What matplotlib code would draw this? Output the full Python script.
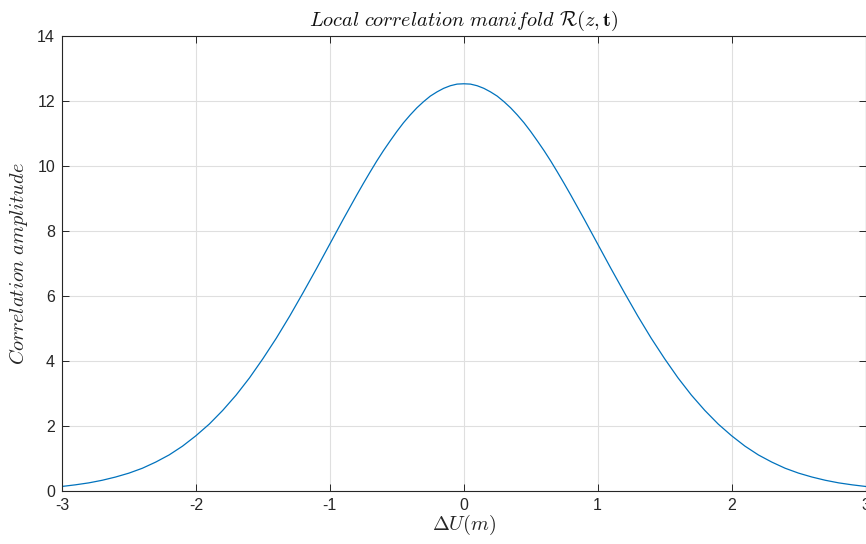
import numpy as np
import matplotlib
matplotlib.use("Agg")
import matplotlib.pyplot as plt

# values (symmetric peak), right half
x_half = [0.0, 0.05, 0.1, 0.15, 0.2, 0.25, 0.3, 0.35, 0.4, 0.45, 0.5,
          0.55, 0.6, 0.65, 0.7, 0.75, 0.8, 0.85, 0.9, 0.95, 1.0,
          1.1, 1.2, 1.3, 1.4, 1.5, 1.6, 1.7, 1.8, 1.9, 2.0,
          2.1, 2.2, 2.3, 2.4, 2.5, 2.6, 2.7, 2.8, 2.9, 3.0]
y_half = [12.53, 12.52, 12.47, 12.39, 12.28, 12.15, 11.98, 11.79, 11.57, 11.33, 11.06,
          10.77, 10.47, 10.15, 9.81, 9.46, 9.10, 8.73, 8.36, 7.98, 7.60,
          6.84, 6.10, 5.38, 4.70, 4.07, 3.48, 2.95, 2.48, 2.06, 1.70,
          1.38, 1.11, 0.89, 0.70, 0.55, 0.43, 0.33, 0.25, 0.19, 0.14]

x_ticks = [-3, -2, -1, 0, 1, 2, 3]
y_ticks = [0, 2, 4, 6, 8, 10, 12, 14]

x = [-v for v in x_half[:0:-1]] + x_half
y = y_half[:0:-1] + y_half

plt.rcParams['font.family'] = ['Liberation Sans', 'DejaVu Sans']
plt.rcParams['mathtext.fontset'] = 'cm'

fig = plt.figure(figsize=(8.66, 5.44), dpi=100)
ax = fig.add_axes([62/866, 1-491/544, 803.5/866, 455/544])

ax.plot(x, y, color='#0072BD', linewidth=0.9, solid_joinstyle='round')

ax.set_xlim(-3, 3)
ax.set_ylim(0, 14)
ax.set_xticks(x_ticks)
ax.set_yticks(y_ticks)
ax.set_xticklabels([str(t) for t in x_ticks])
ax.grid(True, color='#DFDFDF', linewidth=0.8)
ax.set_axisbelow(True)
ax.tick_params(direction='in', length=5, width=0.7, colors='#262626',
               labelsize=11.5, top=True, right=True, pad=5)
for s in ax.spines.values():
    s.set_color('#262626')
    s.set_linewidth(0.8)

ax.set_title(r'$Local\ correlation\ manifold\ \mathcal{R}(z,\mathbf{t})$',
             fontsize=14.6, pad=7, color='#111111')
ax.set_xlabel(r'$\Delta U(m)$', fontsize=14.6, labelpad=0, color='#262626')
ax.set_ylabel(r'$Correlation\ amplitude$', fontsize=14.6, labelpad=5, color='#262626')

fig.savefig('out.png', dpi=100)
